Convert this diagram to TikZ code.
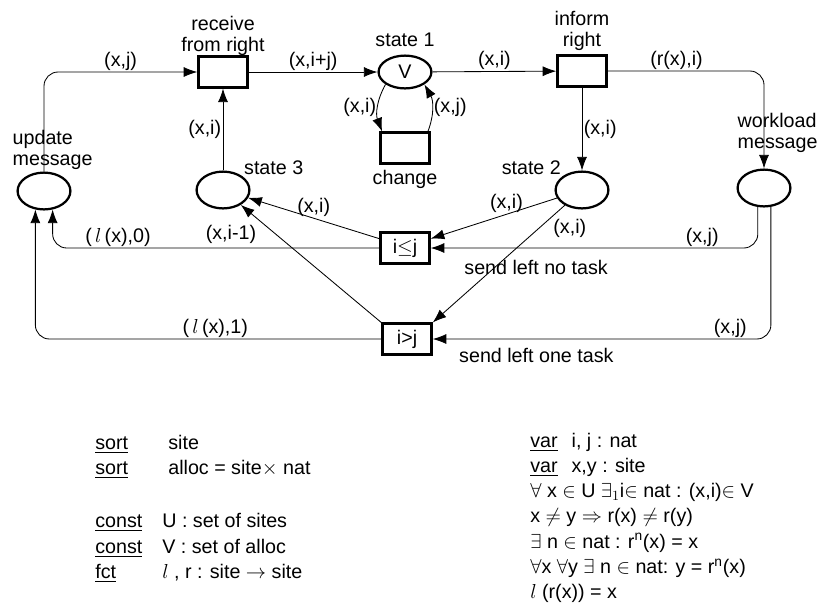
\documentclass[tikz,border=0pt]{standalone}
\usepackage{amsmath}
\usepackage{fontspec}
\setmainfont{Liberation Sans}
\usetikzlibrary{arrows.meta,positioning,shapes.geometric}

\begin{document}
\begin{tikzpicture}[x=0.025cm, y=-0.025cm, >={Latex[length=3.4mm,width=2.5mm]}, font=\fontsize{14}{18}\selectfont]
	\tikzstyle{trans} = [draw, rectangle, line width=1.6pt, minimum height=0.77cm, minimum width=1.23cm, inner sep=0pt]
	\tikzstyle{place} = [draw, ellipse, line width=1.6pt, minimum height=0.92cm, minimum width=1.32cm, inner sep=0pt]
	\tikzstyle{arc} = [->, line width=0.6pt]
	\tikzstyle{lbl} = [inner sep=1pt]
	\tikzstyle{twoline} = [inner sep=1pt, font=\fontsize{14}{15}\selectfont]
	
	\useasboundingbox (0,0) rectangle (822,608);
	
	\node [trans] (receive) at (223,72) {};
	
	\node [place, minimum height=0.82cm] (state1) at (405,72) {V};
	
	\node [trans] (inform) at (582,71) {};
	
	\node [trans] (change) at (405,148) {};
	
	\node [place] (update) at (44,191) {};
	
	\node [place] (state3) at (223,190) {};
	
	\node [place] (state2) at (582,190) {};
	
	\node [place] (workload) at (764,188) {};
	
	\node [trans] (notask) at (405,248) {i$\leq$j};
	
	\node [trans] (onetask) at (407,339) {i>j};
	
	\node [twoline, align=center, above=-0.04cm of receive] (receivetxt) {receive\\from right};
	
	\node [lbl, above=0.15cm of state1] (state1txt) {state 1};
	
	\node [twoline, align=center, above=0.05cm of inform] (informtxt) {inform\\right};
	
	\node [lbl, below=0.1cm of change] (changetxt) {change};
	
	\node [lbl, above right=0pt of state3] (state3txt) {state 3};
	
	\node [lbl, above left=0pt of state2] (state2txt) {state 2};
	
	\node [twoline, align=left, anchor=south west] (updatetxt) at (11,171) {update\\message};
	
	\node [twoline, align=left, anchor=south west] (workloadtxt) at (736,154) {workload\\message};
	
	\node [lbl, below right=-0.15cm and 0.8cm of notask] (notasktxt) {send left no task};
	
	\node [lbl, below right=-0.22cm and 0.62cm of onetask] (onetasktxt) {send left one task};
	
	\draw [arc, rounded corners=10pt] (update.north) |- node[lbl, pos=0.75, above]{(x,j)} (receive.west);
	
	\draw [arc] (receive) -- node[lbl, above]{(x,i+j)} (state1);
	
	\draw [arc] (state1) -- node[lbl, above]{(x,i)} (inform);
	
	\draw [arc, rounded corners=10pt] (inform.east) -| node[lbl, pos=0.22, above]{(r(x),i)} (workload.north);
	
	\draw [arc] (inform) -- node[lbl, right]{(x,i)} (state2);
	
	\draw [arc] (state1.south west) to[bend right=25] node[lbl, left]{(x,i)} ([xshift=2pt]change.north west);
	
	\draw [arc] ([xshift=-2pt]change.north east) to[bend right=25] node[lbl, right]{(x,j)} (state1.south east);
	
	\draw [arc] (state3) -- node[lbl, left]{(x,i)} (receive);
	
	\draw [arc] (notask.160) -- node[lbl, above]{(x,i)} (state3);
	
	\draw [arc] (onetask.north west) -- node[lbl, pos=0.75, left=0.45cm]{(x,i-1)} (state3);
	
	\draw [arc, rounded corners=10pt] (notask.west) -| node[lbl, pos=0.4, above]{(\,$l$\,(x),0)} (update.-65);
	
	\draw [arc, rounded corners=10pt] (onetask.west) -| node[lbl, pos=0.24, above]{(\,$l$\,(x),1)} (update.-115);
	
	\draw [arc] (state2) -- node[lbl, pos=0.4, above]{(x,i)} (notask.20);
	
	\draw [arc] (state2) -- node[lbl, pos=0.1, below right]{(x,i)} (onetask.north east);
	
	\draw [arc, rounded corners=10pt] (workload.-108) |- node[lbl, pos=0.585, above]{(x,j)} (notask.east);
	
	\draw [arc, rounded corners=10pt] (workload.-70) |- node[lbl, pos=0.56, above]{(x,j)} (onetask.east);
	
	\node [anchor=north west, inner sep=0pt] (sorts) at (95,431) {\begin{tabular}{@{}l@{\hspace{0.5cm}}l@{}}
		\underline{sort} & \hspace{0.15cm}site\\
		\underline{sort} & \hspace{0.15cm}alloc = site$\times$ nat\\[20pt]
		\underline{const} & U : set of sites\\
		\underline{const} & V : set of alloc\\
		\underline{fct} & $l$\;, r : site $\rightarrow$ site
	\end{tabular}};
	
	\node [anchor=north west, inner sep=0pt] (axioms) at (530,429) {\begin{tabular}{@{}l@{}}
		\underline{var}\hspace{0.35cm}i, j : nat\\
		\underline{var}\hspace{0.35cm}x,y : site\\
		$\forall$ x $\in$ U $\exists_{1}$i$\in$ nat : (x,i)$\in$ V\\
		x $\neq$ y $\Rightarrow$ r(x) $\neq$ r(y)\\
		$\exists$ n $\in$ nat : r\textsuperscript{n}(x) = x\\
		$\forall$x $\forall$y $\exists$ n $\in$ nat: y = r\textsuperscript{n}(x)\\
		$l$\;(r(x)) = x
	\end{tabular}};
	
\end{tikzpicture}
\end{document}
